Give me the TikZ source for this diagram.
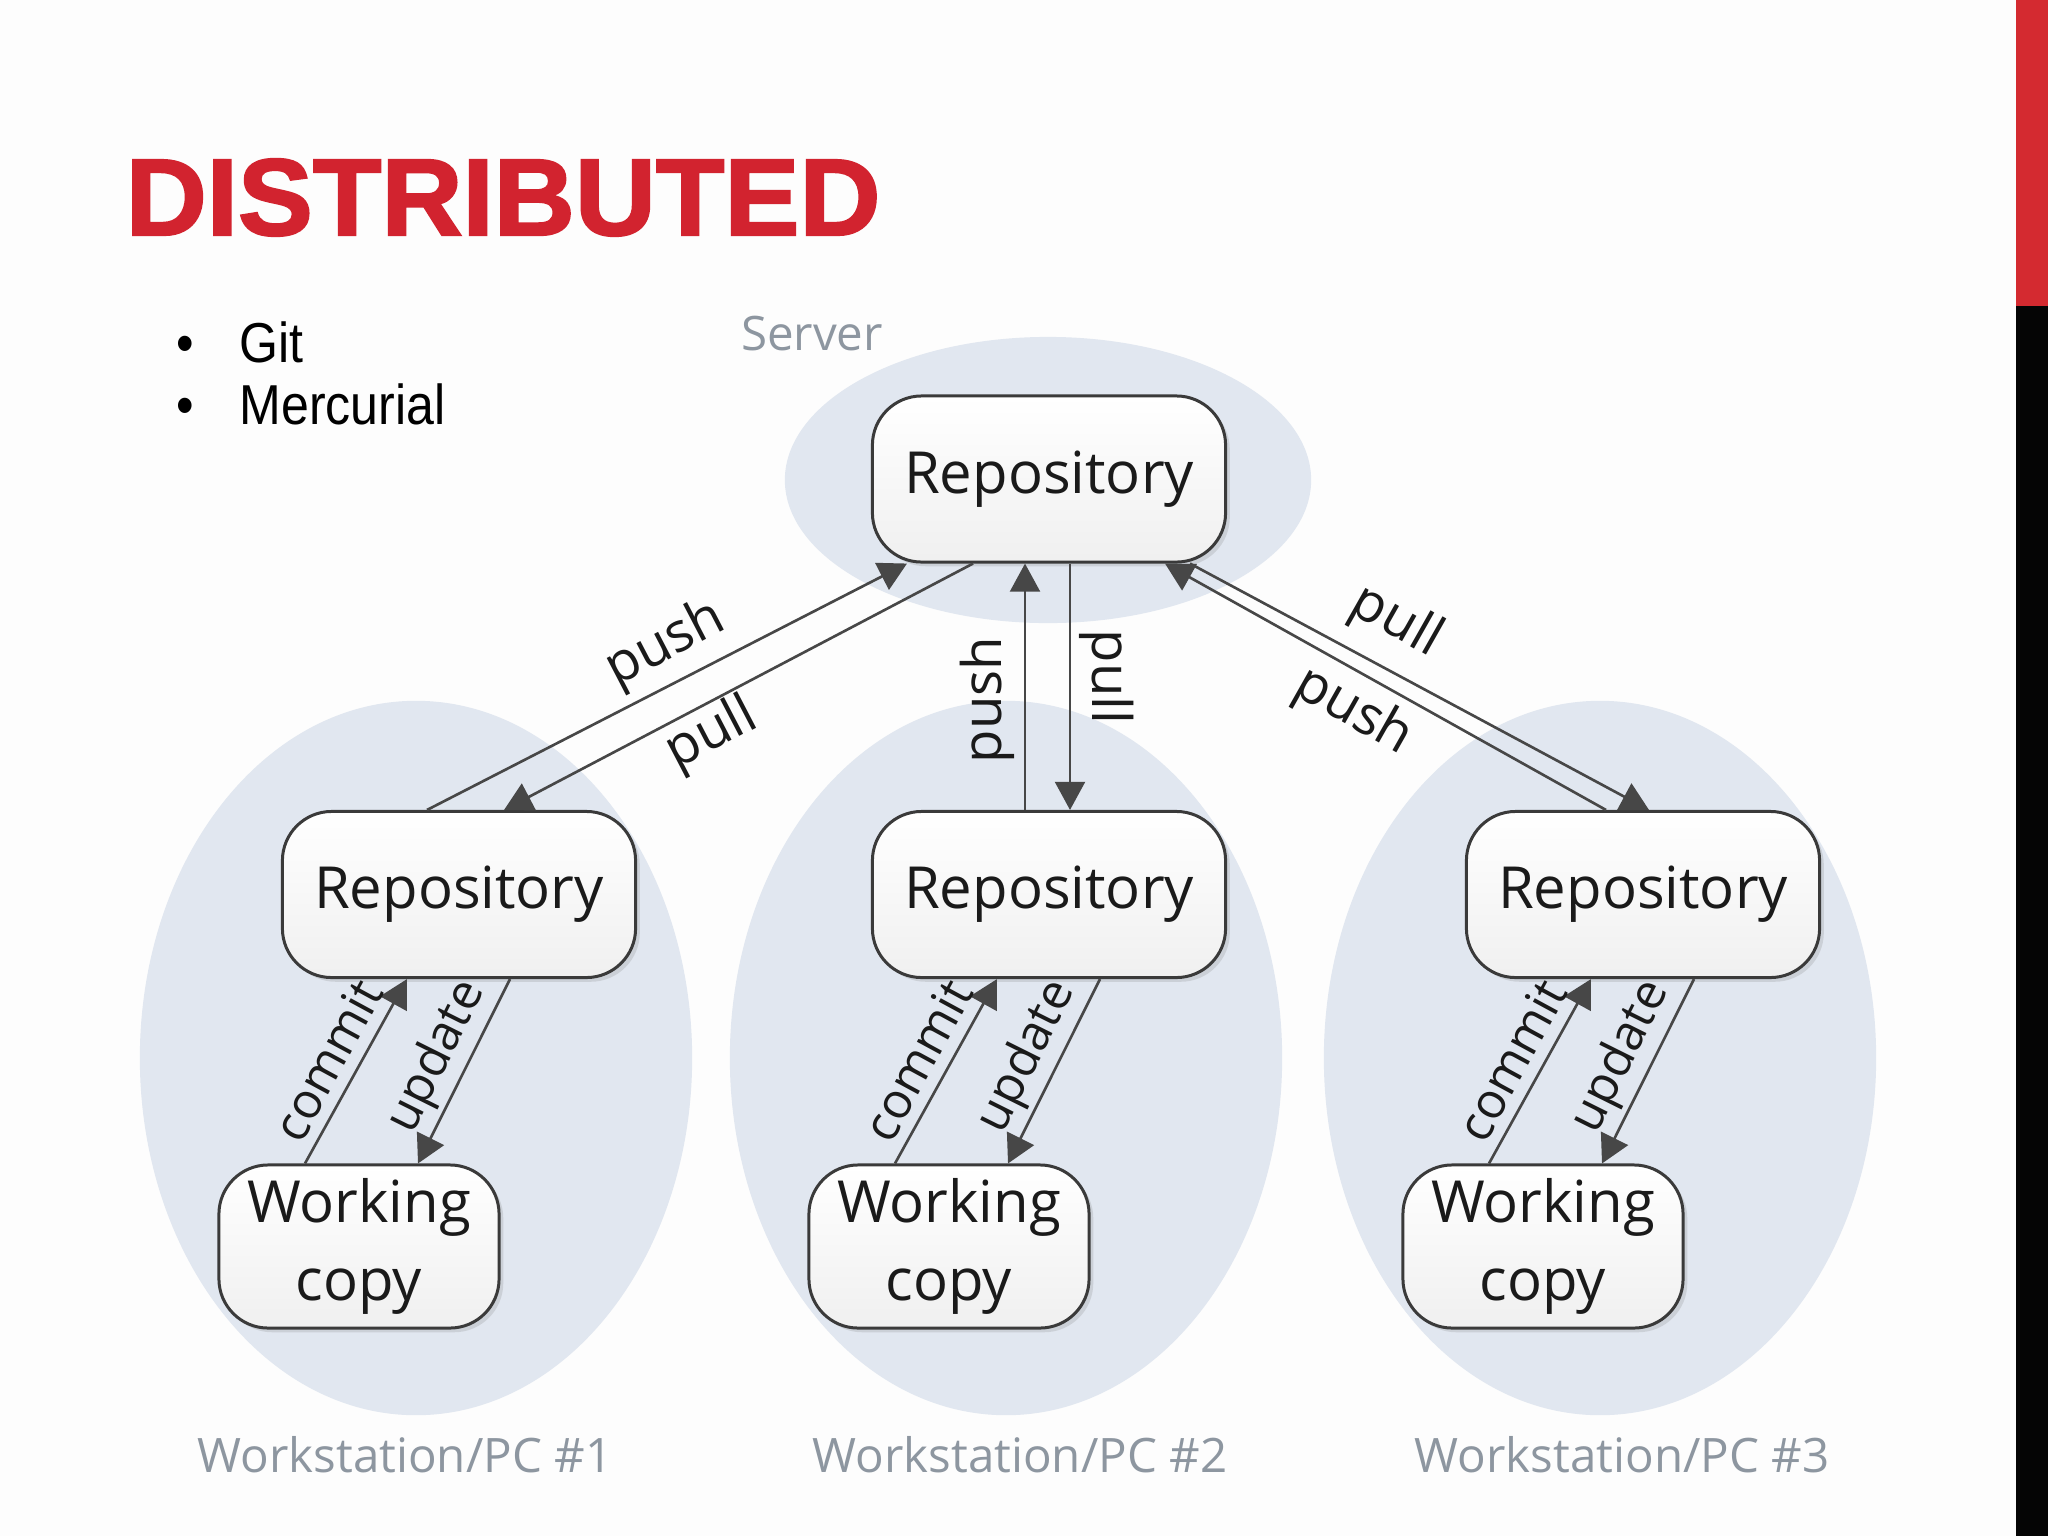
\documentclass[tikz,border=0pt]{standalone}
\usepackage{fontspec}
\setmainfont{Open Sans}
\newfontfamily\diafont{Open Sans}
\newfontfamily\titlefont{Liberation Sans}[BoldFeatures={FakeBold=2,FakeStretch=1.03}]
\newfontfamily\bulletfont{Liberation Sans}[FakeStretch=0.89]
\usetikzlibrary{arrows.meta,calc,shadows}
\definecolor{titlered}{HTML}{D2232F}
\definecolor{barred}{HTML}{D42A30}
\definecolor{bubble}{HTML}{E1E7F0}
\definecolor{labelgray}{HTML}{8D96A0}
\definecolor{edgec}{HTML}{3A3A3A}
\definecolor{linec}{HTML}{474747}
\definecolor{bgc}{HTML}{FDFDFD}
\definecolor{textc}{HTML}{1A1A1A}
\tikzset{
  boxbase/.style={draw=edgec, line width=0.85pt, rounded corners=14pt,
    top color=white, bottom color=black!6, text=textc, inner sep=0pt,
    drop shadow={shadow xshift=1.2pt, shadow yshift=-1.2pt, opacity=0.22}},
  repo/.style={boxbase, minimum width=3.53cm, minimum height=1.66cm,
    font=\diafont\fontsize{16.5}{20}\selectfont},
  wcopy/.style={boxbase, minimum width=2.80cm, minimum height=1.63cm, align=center,
    font=\diafont\fontsize{16.5}{22}\selectfont},
  arr/.style={draw=linec, line width=0.75pt, -{Triangle[length=8pt,width=8.5pt]}},
  biglab/.style={inner sep=0pt, text=textc, font=\diafont\fontsize{15.5}{18}\selectfont},
  smalllab/.style={inner sep=0pt, text=textc, font=\diafont\fontsize{14}{16}\selectfont},
  graylab/.style={inner sep=0pt, text=labelgray, font=\diafont\fontsize{13.5}{16}\selectfont},
  bub/.style={fill=bubble}
}
\begin{document}
\begin{tikzpicture}[x=0.01cm, y=-0.01cm]
\useasboundingbox (0,0) rectangle (2048,1536);
\fill[bgc] (0,0) rectangle (2048,1536);
% right bar
\fill[barred] (2016,0) rectangle (2048,306);
\fill[black!98] (2016,306) rectangle (2048,1536);
% title and bullets
\node[anchor=base west, inner sep=0pt, text=titlered,
  font=\titlefont\bfseries\fontsize{31}{31}\selectfont] (title) at (125,235) {DISTRIBUTED};
\node[anchor=base west, inner sep=0pt, font=\bulletfont\fontsize{16}{19}\selectfont] (bul1) at (176,362) {•};
\node[anchor=base west, inner sep=0pt, font=\bulletfont\fontsize{16}{19}\selectfont] (git) at (239,362) {Git};
\node[anchor=base west, inner sep=0pt, font=\bulletfont\fontsize{16}{19}\selectfont] (bul2) at (176,424) {•};
\node[anchor=base west, inner sep=0pt, font=\bulletfont\fontsize{16}{19}\selectfont] (merc) at (239,424) {Mercurial};
% bubbles
\fill[bub] (1048,480) ellipse [x radius=2.63cm, y radius=1.43cm];
\foreach \dx in {0,590,1184}{
  \fill[bub] (416+\dx,1058) ellipse [x radius=2.76cm, y radius=3.57cm];
}
% labels of groups
\node[graylab] (srvlab) at (812,334) {Server};
\node[graylab] (ws1lab) at (405,1455) {Workstation/PC \#1};
\node[graylab] (ws2lab) at (1020,1455) {Workstation/PC \#2};
\node[graylab] (ws3lab) at (1622,1455) {Workstation/PC \#3};
% server
\node[repo] (srv) at (1049,479) {Repository};
% workstations
\foreach \i/\dx in {1/0,2/590,3/1184}{
  \node[repo] (r\i) at (459+\dx,894.5) {Repository};
  \node[wcopy] (w\i) at (359+\dx,1246.5) {Working\\copy};
  \draw[arr] ($(w\i.north)+(-54,0)$) -- ($(r\i.south)+(-52,0)$);
  \draw[arr] ($(r\i.south)+(51,0)$) -- ($(w\i.north)+(59,0)$);
  \node[smalllab, rotate=61.5] (c\i) at (327+\dx,1060) {commit};
  \node[smalllab, rotate=63.5] (u\i) at (437+\dx,1057) {update};
}
% server links
\draw[arr] ($(r1.north)+(-32,0)$) -- ($(srv.south)+(-142,0)$);
\draw[arr] ($(srv.south)+(-76,0)$) -- ($(r1.north)+(45,0)$);
\draw[arr] ($(r2.north)+(-24,0)$) -- ($(srv.south)+(-24,0)$);
\draw[arr] ($(srv.south)+(21,0)$) -- ($(r2.north)+(21,0)$);
\draw[arr] ($(r3.north)+(-37,0)$) -- ($(srv.south)+(116,0)$);
\draw[arr] ($(srv.south)+(141,0)$) -- ($(r3.north)+(6,0)$);
\node[biglab, rotate=27.5] (lpush) at (666,645) {push};
\node[biglab, rotate=27.5] (lpull) at (712,735) {pull};
\node[biglab, rotate=90] (mpush) at (987,700) {push};
\node[biglab, rotate=-90] (mpull) at (1107,677) {pull};
\node[biglab, rotate=-29.5] (rpull) at (1396,622) {pull};
\node[biglab, rotate=-29.5] (rpush) at (1353,712) {push};
\end{tikzpicture}
\end{document}
